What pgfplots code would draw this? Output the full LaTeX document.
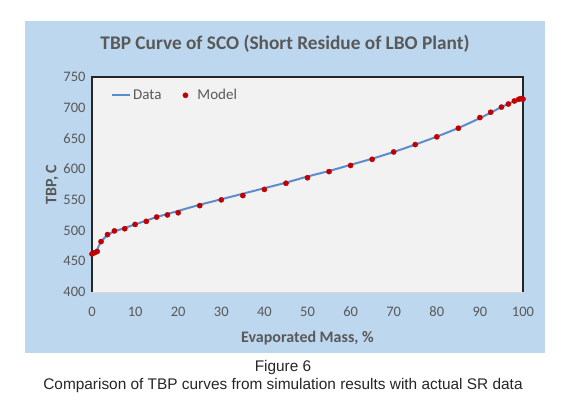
\documentclass[border=0pt]{standalone}
\usepackage{fontspec}
\setmainfont{Carlito}
\newfontfamily\arialf{Liberation Sans}
\usepackage{pgfplots}
\pgfplotsset{compat=1.18}
\definecolor{frameblue}{RGB}{189,215,238}
\definecolor{plotbg}{RGB}{242,242,242}
\definecolor{txtgray}{RGB}{89,89,89}
\definecolor{lineblue}{RGB}{91,141,205}
\definecolor{dotred}{RGB}{192,0,0}

\begin{document}
\begin{tikzpicture}[x=1pt,y=1pt]
% page and chart area, in pixels of the reference
\useasboundingbox[fill=white] (0,0) rectangle (566,400);
\fill[frameblue] (25,47) rectangle (545,379);
\node[font=\fontsize{19.3}{22}\selectfont\bfseries, text=txtgray] at (285,356) {TBP Curve of SCO (Short Residue of LBO Plant)};
\node[font=\arialf\fontsize{15.4}{17}\selectfont, text=black!85] at (283,32) {Figure 6};
\node[font=\arialf\fontsize{15.4}{17}\selectfont, text=black!85] at (283,14) {Comparison of TBP curves from simulation results with actual SR data};

\begin{axis}[
  at={(92pt,108pt)}, anchor=south west,
  scale only axis, width=431pt, height=215pt,
  xmin=0, xmax=100, ymin=400, ymax=750,
  xtick={0,10,...,100}, ytick={400,450,...,750},
  axis background/.style={fill=plotbg},
  axis line style={draw=none},
  major tick length=0pt,
  /pgf/number format/assume math mode=true,
  ticklabel style={font=\fontsize{14.5}{16}\selectfont, text=txtgray},
  xticklabel style={anchor=base, yshift=-24pt},
  yticklabel style={xshift=-3pt},
  xlabel={Evaporated Mass, \%},
  ylabel={TBP, C},
  label style={font=\fontsize{16}{18}\selectfont\bfseries, text=txtgray},
  xlabel style={yshift=-8pt},
  ylabel style={yshift=-2pt},
  legend style={at={(0.037,0.915)}, anchor=west, draw=none, fill=none,
    legend columns=2, font=\fontsize{15}{17}\selectfont, text=txtgray,
    /tikz/every even column/.append style={column sep=13pt}},
  legend image code/.code={\draw[#1] (0pt,0pt) -- (18pt,0pt);},
  clip=false,
]
\addplot[lineblue, line width=2pt, smooth] coordinates {
(0,460) (0.6,464) (1.2,469) (2,481) (3.5,492) (5,498) (7.5,504) (10,510)
(12.5,516) (15,522) (17.5,527) (20,532) (25,542) (30,551) (35,560) (40,569)
(45,578) (50,588) (55,597) (60,607) (65,617) (70,628) (75,640) (80,653)
(85,667) (90,683) (92.5,692) (95,701) (96.6,706) (98,711) (99,713.5) (99.5,714.5) (100,715)
};
\addlegendentry{Data}
\addplot[only marks, mark=*, mark size=2.6pt, dotred,
  legend image code/.code={\path[draw=none, fill=none] (0pt,0pt) -- (19pt,0pt); \fill[dotred] (9pt,0pt) circle (2.6pt);}] coordinates {
(0,462) (0.6,464) (1.2,466) (2.1,482) (3.6,493.5) (5.2,499.5) (7.6,503) (10,510)
(12.6,515) (15,522) (17.5,525.5) (20,529) (25,540.6) (30,550) (35,557) (40,567)
(45,577) (50,586) (55,596) (60,606) (65,616) (70,628) (75,640) (80,652.6)
(85,666.6) (90,684) (92.5,692.6) (95,701) (96.6,706) (98,711) (99,713.7) (99.5,714.8) (100,714)
};
\addlegendentry{Model}
\draw[black!85, line width=1.2pt] (rel axis cs:0,0) |- (rel axis cs:1,1) -- (rel axis cs:1,0);
\draw[black!15, line width=0.8pt] (rel axis cs:0,0) -- (rel axis cs:1,0);
\end{axis}
\end{tikzpicture}
\end{document}
